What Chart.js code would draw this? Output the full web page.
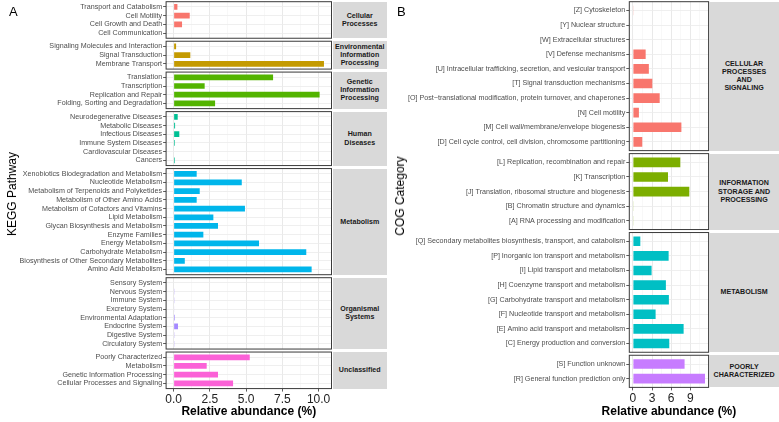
<!DOCTYPE html>
<html><head><meta charset="utf-8">
<script src="https://cdn.jsdelivr.net/npm/chart.js@4"></script>
<style>
html,body{margin:0;padding:0;background:#fff;}
#wrap{position:relative;width:779px;height:422px;overflow:hidden;font-family:"Liberation Sans",Arial,Helvetica,sans-serif;}
#wrap canvas{position:absolute;}
.strip{position:absolute;background:#d9d9d9;display:flex;align-items:center;justify-content:center;text-align:center;font-weight:bold;font-size:7.1px;line-height:8.1px;color:#1a1a1a;white-space:pre-line;}
.plabel{position:absolute;font-size:13px;color:#000;line-height:13px;}
.ytitle{position:absolute;font-size:12px;line-height:14px;color:#000;white-space:nowrap;transform:translate(-50%,-50%) rotate(-90deg);}
.xtitle{position:absolute;font-size:12px;line-height:14px;font-weight:bold;color:#000;white-space:nowrap;transform:translate(-50%,-50%);}
</style></head><body><div id="wrap"></div>
<script>
// ---------- DATA: panel A (KEGG) ----------
const keggStrips = ["Cellular\nProcesses","Environmental\nInformation\nProcessing","Genetic\nInformation\nProcessing","Human\nDiseases","Metabolism","Organismal\nSystems","Unclassified"];
const keggColors = ["#F8766D","#C49A00","#53B400","#00C094","#00B6EB","#A58AFF","#FB61D7"];
const keggCellular = ["Transport and Catabolism","Cell Motility","Cell Growth and Death","Cell Communication"];
const keggCellularValues = [0.26,1.11,0.58,0];
const keggEnvironmental = ["Signaling Molecules and Interaction","Signal Transduction","Membrane Transport"];
const keggEnvironmentalValues = [0.17,1.15,10.37];
const keggGenetic = ["Translation","Transcription","Replication and Repair","Folding, Sorting and Degradation"];
const keggGeneticValues = [6.86,2.14,10.07,2.86];
const keggHuman = ["Neurodegenerative Diseases","Metabolic Diseases","Infectious Diseases","Immune System Diseases","Cardiovascular Diseases","Cancers"];
const keggHumanValues = [0.28,0.1,0.39,0.08,0,0.08];
const keggMetabolism = ["Xenobiotics Biodegradation and Metabolism","Nucleotide Metabolism","Metabolism of Terpenoids and Polyketides","Metabolism of Other Amino Acids","Metabolism of Cofactors and Vitamins","Lipid Metabolism","Glycan Biosynthesis and Metabolism","Enzyme Families","Energy Metabolism","Carbohydrate Metabolism","Biosynthesis of Other Secondary Metabolites","Amino Acid Metabolism"];
const keggMetabolismValues = [1.59,4.7,1.8,1.59,4.92,2.74,3.06,2.05,5.89,9.15,0.77,9.52];
const keggOrganismal = ["Sensory System","Nervous System","Immune System","Excretory System","Environmental Adaptation","Endocrine System","Digestive System","Circulatory System"];
const keggOrganismalValues = [0,0.05,0.05,0.03,0.08,0.3,0.05,0.05];
const keggUnclassified = ["Poorly Characterized","Metabolism","Genetic Information Processing","Cellular Processes and Signaling"];
const keggUnclassifiedValues = [5.25,2.28,3.06,4.1];
const keggTicks = [0,2.5,5,7.5,10];

// ---------- DATA: panel B (COG) ----------
const cogStrips = ["CELLULAR\nPROCESSES\nAND\nSIGNALING","INFORMATION\nSTORAGE AND\nPROCESSING","METABOLISM","POORLY\nCHARACTERIZED"];
const cogColors = ["#F8766D","#7CAE00","#00BFC4","#C77CFF"];
const cogCellular = ["[Z] Cytoskeleton","[Y] Nuclear structure","[W] Extracellular structures","[V] Defense mechanisms","[U] Intracellular trafficking, secretion, and vesicular transport","[T] Signal transduction mechanisms","[O] Post\u2212translational modification, protein turnover, and chaperones","[N] Cell motility","[M] Cell wall/membrane/envelope biogenesis","[D] Cell cycle control, cell division, chromosome partitioning"];
const cogCellularValues = [0.1,0,0.08,2.0,2.5,3.04,4.2,0.94,7.6,1.47];
const cogInformation = ["[L] Replication, recombination and repair","[K] Transcription","[J] Translation, ribosomal structure and biogenesis","[B] Chromatin structure and dynamics","[A] RNA processing and modification"];
const cogInformationValues = [7.43,5.5,8.84,0.06,0.06];
const cogMetabolism = ["[Q] Secondary metabolites biosynthesis, transport, and catabolism","[P] Inorganic ion transport and metabolism","[I] Lipid transport and metabolism","[H] Coenzyme transport and metabolism","[G] Carbohydrate transport and metabolism","[F] Nucleotide transport and metabolism","[E] Amino acid transport and metabolism","[C] Energy production and conversion"];
const cogMetabolismValues = [1.16,5.6,2.93,5.17,5.64,3.56,7.95,5.7];
const cogPoorly = ["[S] Function unknown","[R] General function prediction only"];
const cogPoorlyValues = [8.1,11.3];
const cogTicks = [0,3,6,9];

// ---------- build ----------
const FONT = '"Liberation Sans", Arial, Helvetica, sans-serif';
Chart.defaults.font.family = FONT;
const wrap = document.getElementById('wrap');

const sides = [
  { name:'A', canvasLeft:0, yWidth:166.1, panelRight:331.5, xMin:-0.52, xMax:10.89, major:2.5,
    fmt:v=>v.toFixed(1), u:8.7, top:1.7, gap:3, stripLeft:332.5, stripWidth:54.5, labelSize:7.15,
    groups:[[keggCellular,keggCellularValues],[keggEnvironmental,keggEnvironmentalValues],[keggGenetic,keggGeneticValues],[keggHuman,keggHumanValues],[keggMetabolism,keggMetabolismValues],[keggOrganismal,keggOrganismalValues],[keggUnclassified,keggUnclassifiedValues]],
    colors:keggColors, strips:keggStrips, ticks:keggTicks },
  { name:'B', canvasLeft:400, yWidth:229.3, panelRight:708.6, xMin:-0.565, xMax:11.865, major:3,
    fmt:v=>String(v), u:14.6, top:1.7, gap:3, stripLeft:709.1, stripWidth:70, labelSize:7.15,
    groups:[[cogCellular,cogCellularValues],[cogInformation,cogInformationValues],[cogMetabolism,cogMetabolismValues],[cogPoorly,cogPoorlyValues]],
    colors:cogColors, strips:cogStrips, ticks:cogTicks }
];

const borderPlugin = {
  id:'panelBorder',
  afterDraw(chart){
    const a = chart.chartArea, ctx = chart.ctx;
    ctx.save(); ctx.strokeStyle = '#3a3a3a'; ctx.lineWidth = 1;
    ctx.strokeRect(a.left, a.top, a.right - a.left, a.bottom - a.top);
    ctx.restore();
  }
};

function addDiv(cls, text, css){ const d=document.createElement('div'); d.className=cls; d.textContent=text; Object.assign(d.style, css); wrap.appendChild(d); return d; }

sides.forEach(side => {
  let y = side.top;
  const nG = side.groups.length;
  side.groups.forEach((g, gi) => {
    const labels = g[0], values = g[1], n = labels.length;
    const T = y, H = (n + 0.2) * side.u, B = T + H;
    y = B + side.gap;
    const isBottom = gi === nG - 1;
    const cTop = Math.floor(T) - 1;
    const cBottom = isBottom ? 422 : Math.ceil(B) + 1;
    const cWidth = Math.ceil(side.panelRight) + 1 - side.canvasLeft;
    const padTop = T - cTop;
    const padBottom = isBottom ? 0 : cBottom - B;
    const padRight = side.canvasLeft + cWidth - side.panelRight;
    const xAxisH = isBottom ? 422 - B : 0;

    const cv = document.createElement('canvas');
    cv.width = cWidth; cv.height = cBottom - cTop;
    cv.style.left = side.canvasLeft + 'px'; cv.style.top = cTop + 'px';
    cv.style.width = cWidth + 'px'; cv.style.height = (cBottom - cTop) + 'px';
    wrap.appendChild(cv);

    addDiv('strip', side.strips[gi], { left: side.stripLeft + 'px', top: T + 'px',
      width: side.stripWidth + 'px', height: H + 'px' });

    const major = side.major;
    const isMajor = v => Math.abs(v / major - Math.round(v / major)) < 1e-6;
    const xTickVals = [];
    for (let v = 0; v <= side.xMax + 1e-9; v += major / 2) xTickVals.push(+v.toFixed(4));

    new Chart(cv, {
      type:'bar',
      data:{ datasets:[{ data: values.map((v,i)=>({x:v, y:i})), backgroundColor: side.colors[gi],
        borderWidth:0, barPercentage:0.66, categoryPercentage:1 }] },
      options:{
        indexAxis:'y', responsive:false, animation:false, devicePixelRatio:1,
        layout:{ autoPadding:false, padding:{ left:0, right:padRight, top:padTop, bottom:padBottom } },
        plugins:{ legend:{display:false}, tooltip:{enabled:false} },
        scales:{
          x:{ type:'linear', min:side.xMin, max:side.xMax, offset:false,
            afterBuildTicks: s => { s.ticks = xTickVals.map(v=>({value:v})); },
            afterFit: s => { s.height = xAxisH; s.paddingLeft = 0; s.paddingRight = 0; },
            border:{display:false},
            grid:{ offset:false, drawTicks:isBottom, tickLength:3,
              color: c => (c.tick && isMajor(c.tick.value)) ? '#e9e9e9' : '#f4f4f4',
              lineWidth: c => (c.tick && isMajor(c.tick.value)) ? 1 : 0.6,
              tickColor: c => (c.tick && isMajor(c.tick.value)) ? '#333' : 'rgba(0,0,0,0)',
              tickWidth:0.8 },
            ticks:{ display:isBottom, autoSkip:false, maxRotation:0, minRotation:0, padding:1,
              color:'#222', font:{size:12, family:FONT},
              callback: v => isMajor(v) ? side.fmt(v) : '' },
            title:{ display:false }
          },
          y:{ type:'linear', reverse:true, min:-0.6, max:n - 0.4, offset:false,
            afterBuildTicks: s => { s.ticks = labels.map((_,i)=>({value:i})); },
            afterFit: s => { s.width = side.yWidth; s.paddingTop = 0; s.paddingBottom = 0; },
            border:{display:false},
            grid:{ offset:false, color:'#ebebeb', lineWidth:0.8, drawTicks:true, tickLength:3, tickColor:'#333', tickWidth:0.8 },
            ticks:{ autoSkip:false, padding:1, color:'#4d4d4d', font:{size:side.labelSize, family:FONT},
              callback: v => labels[Math.round(v)] }
          }
        }
      },
      plugins:[borderPlugin]
    });
  });
  // x-axis title centred under the panel
  const panelLeft = side.canvasLeft + side.yWidth;
  addDiv('xtitle', 'Relative abundance (%)', { left: ((panelLeft + side.panelRight) / 2) + 'px', top: '411px' });
});

// panel letters and y titles
addDiv('plabel','A',{left:'9px', top:'5px'});
addDiv('plabel','B',{left:'397px', top:'5px'});
addDiv('ytitle','KEGG Pathway',{left:'12px', top:'194px'});
addDiv('ytitle','COG Category',{left:'400px', top:'196px'});
</script></body></html>
